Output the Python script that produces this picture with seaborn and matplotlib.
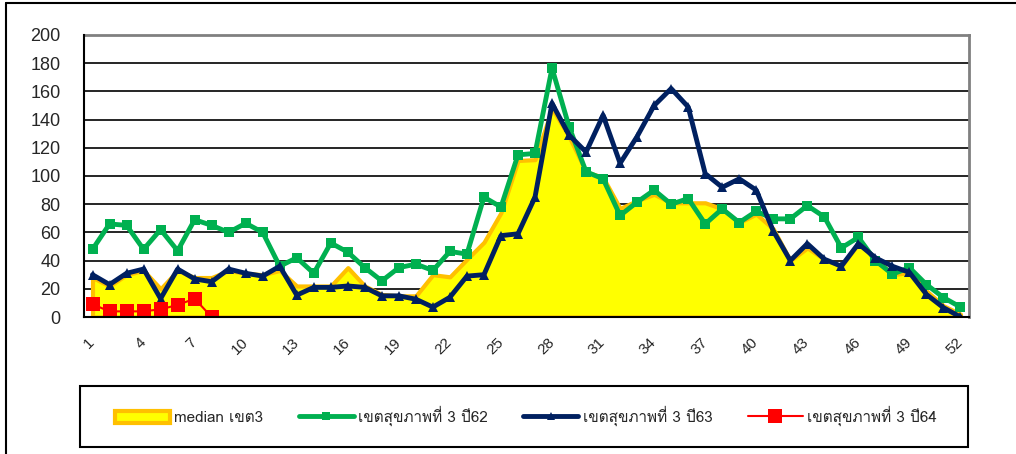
import numpy as np
import pandas as pd
import seaborn as sns
import matplotlib
matplotlib.use("Agg")
import matplotlib.pyplot as plt
from matplotlib import font_manager, ft2font
from matplotlib.patches import Patch, Rectangle
from matplotlib.lines import Line2D

weeks = list(range(1, 53))

median_zone3 = [28, 22, 30, 33, 20, 33, 28, 28, 33, 31, 30, 33, 22, 22, 22, 35,
                22, 16, 15, 15, 30, 28.5, 41, 53, 74, 111, 111.6, 148, 128, 103,
                99, 77, 82.6, 87, 81, 81, 81, 76.7, 67, 73, 62.5, 40, 49, 41,
                36, 52, 42, 30, 31.6, 18.5, 8, 2]
zone3_y62 = [48, 66, 65, 48, 62, 47, 69, 65, 60, 66.5, 60, 36, 42, 31, 52.5, 46,
             35, 25.6, 35, 37.5, 33, 46.5, 44.6, 85, 78, 115, 116, 176.5, 135, 103,
             98, 72, 81.5, 90, 80, 84, 66, 76.7, 67, 75, 69.6, 69.6, 79, 71,
             49, 56.5, 40, 30.4, 35, 23, 13.8, 7]
zone3_y63 = [30, 23, 31, 34, 13, 34, 27, 25, 34, 31, 29, 36, 15.5, 21, 21, 22,
             21, 15, 15, 12.6, 7, 14, 29, 30, 57.7, 59, 85, 151.5, 129, 117,
             143, 109, 128, 150, 162, 149, 101.7, 92, 98, 90, 61, 40, 52, 41,
             36, 52, 42, 36, 31.6, 16, 6.6, 0]
zone3_y64 = [9, 4, 4, 4, 5.5, 8.5, 13, 0]

labels = ["median เขต3", "เขตสุขภาพที่ 3 ปี62", "เขตสุขภาพที่ 3 ปี63", "เขตสุขภาพที่ 3 ปี64"]
xtick_labels = list(range(1, 53, 3))

sns.set_style("white")
# need a family that has Thai glyphs for the legend
thai_font = None
for f in font_manager.fontManager.ttflist:
    try:
        if 0x0E40 in ft2font.FT2Font(f.fname).get_charmap():
            thai_font = f.name
            break
    except Exception:
        pass
if thai_font:
    plt.rcParams['font.family'] = [thai_font, 'DejaVu Sans']
else:
    plt.rcParams['font.family'] = ['DejaVu Sans']

W, H = 1016, 454
fig = plt.figure(figsize=(W/100, H/100), dpi=100)
ax = fig.add_axes([84/W, 1-317/H, 885/W, 282/H])

df62 = pd.DataFrame({"week": weeks, "value": zone3_y62})
df63 = pd.DataFrame({"week": weeks, "value": zone3_y63})
df64 = pd.DataFrame({"week": weeks[:len(zone3_y64)], "value": zone3_y64})

ax.fill_between(weeks, median_zone3, 0, facecolor="#FFFF00", edgecolor="#FFC000",
                linewidth=3, zorder=2)
sns.lineplot(data=df62, x="week", y="value", ax=ax, color="#00B050", linewidth=3.5,
             marker="s", markersize=7, markeredgewidth=0, zorder=3)
sns.lineplot(data=df63, x="week", y="value", ax=ax, color="#002060", linewidth=3.5,
             marker="^", markersize=7, markeredgewidth=0, zorder=4)
sns.lineplot(data=df64, x="week", y="value", ax=ax, color="#FF0000", linewidth=1.5,
             marker="s", markersize=10, markeredgewidth=0, zorder=5)

ax.set_xlim(0.5, 52.5)
ax.set_ylim(0, 200)
ax.set_yticks(range(0, 201, 20))
ax.set_xticks(xtick_labels)
ax.set_xticklabels([str(v) for v in xtick_labels], rotation=45, ha="right", va="center",
                   rotation_mode="anchor", fontsize=11, family="Liberation Sans")
ax.set_xticks(np.arange(0.5, 53, 1), minor=True)
ax.tick_params(axis="x", which="major", length=0, pad=17)
ax.tick_params(axis="x", which="minor", length=7, width=1.2, color="black", direction="out")
ax.tick_params(axis="y", length=7, width=1.2, color="black", direction="out",
               labelsize=13, pad=10)
for t in ax.get_yticklabels():
    t.set_family("Liberation Sans")
    t.set_color("#262626")
for t in ax.get_xticklabels():
    t.set_color("#262626")
ax.set_xlabel("")
ax.set_ylabel("")
ax.grid(axis="y", color="black", linewidth=1.2, zorder=1)
ax.set_axisbelow(True)
for s in ["top", "right"]:
    ax.spines[s].set_color("#808080")
    ax.spines[s].set_linewidth(2)
for s in ["left", "bottom"]:
    ax.spines[s].set_color("black")
    ax.spines[s].set_linewidth(1.5)
    ax.spines[s].set_zorder(6)

# frame round the chart
fig.add_artist(Line2D([6/W, 6/W], [0, 1-3/H], color="black", linewidth=1.5))
fig.add_artist(Line2D([6/W, 1], [1-3/H, 1-3/H], color="black", linewidth=1.5))

handles = [
    Patch(facecolor="#FFFF00", edgecolor="#FFC000", linewidth=3),
    Line2D([], [], color="#00B050", linewidth=3.5, marker="s", markersize=6, markeredgewidth=0),
    Line2D([], [], color="#002060", linewidth=3.5, marker="^", markersize=6, markeredgewidth=0),
    Line2D([], [], color="#FF0000", linewidth=1.5, marker="s", markersize=10, markeredgewidth=0),
]
leg = fig.legend(handles, labels, loc="center", ncol=4,
                 bbox_to_anchor=(526/W, 1-416/H),
                 frameon=False, fontsize=11, handlelength=3.6, handleheight=0.8,
                 handletextpad=0.3, columnspacing=2.3, borderaxespad=0)
fig.add_artist(Rectangle((80/W, 1-447/H), 888/W, 61/H, transform=fig.transFigure,
                         fill=False, edgecolor="black", linewidth=1.5))

fig.savefig("out.png", dpi=100)
